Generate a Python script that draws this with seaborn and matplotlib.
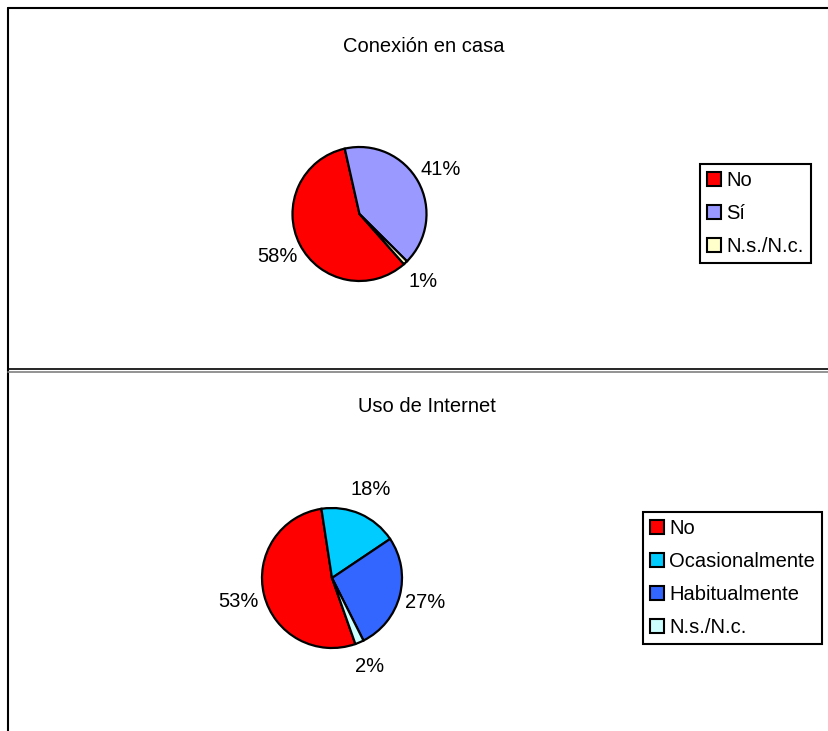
import matplotlib
matplotlib.use("Agg")
import matplotlib.pyplot as plt
from matplotlib.lines import Line2D
from matplotlib.patches import Patch
import seaborn as sns

# datos
titulo_casa = "Conexión en casa"
cats_casa = ["No", "Sí", "N.s./N.c."]
vals_casa = [58, 41, 1]
cols_casa = ["#FF0000", "#9999FF", "#FFFFCC"]

titulo_uso = "Uso de Internet"
cats_uso = ["No", "Ocasionalmente", "Habitualmente", "N.s./N.c."]
vals_uso = [53, 18, 27, 2]
cols_uso = ["#FF0000", "#00CCFF", "#3366FF", "#CCFFFF"]

sns.set_theme(style="white")
plt.rcParams['font.family'] = ['Liberation Sans', 'DejaVu Sans']
plt.rcParams['text.color'] = 'black'

W, H = 829, 731
fig = plt.figure(figsize=(W / 100, H / 100), dpi=100, facecolor='white')


def fx(x):
    return x / W


def fy(y):
    return 1 - y / H


# marcos de los dos paneles
lineas = [
    ([8, W], [8, 8], 'black', 1.5),
    ([8, 8], [8, H], 'black', 1.5),
    ([8, W], [368.5, 368.5], 'black', 1.2),
    ([8, W], [371.5, 371.5], '#808080', 1.2),
]
for xs, ys, c, lw in lineas:
    fig.add_artist(Line2D([fx(v) for v in xs], [fy(v) for v in ys], transform=fig.transFigure,
                          color=c, lw=lw))


def tarta(cx, cy, r, vals, cols, start):
    ax = fig.add_axes([fx(cx - r), fy(cy + r), 2 * r / W, 2 * r / H])
    ax.pie(vals, colors=cols, startangle=start, counterclock=False,
           wedgeprops=dict(edgecolor='black', linewidth=1.6),
           autopct=lambda p: '%.0f%%' % p, pctdistance=1.38,
           textprops=dict(fontsize=14.5, color='black'))
    ax.set_xlim(-1, 1)
    ax.set_ylim(-1, 1)
    ax.set_aspect('equal')
    return ax


def leyenda(cats, cols, x, y):
    handles = [Patch(facecolor=c, edgecolor='black', linewidth=1.5) for c in cols]
    leg = fig.legend(handles, cats, loc='upper left', bbox_to_anchor=(fx(x), fy(y)),
                     bbox_transform=fig.transFigure, borderaxespad=0, fontsize=14.5,
                     fancybox=False, framealpha=1, edgecolor='black',
                     handlelength=0.7, handleheight=0.7, handletextpad=0.25,
                     labelspacing=0.7, borderpad=0.35)
    leg.get_frame().set_linewidth(1.5)
    return leg


fig.text(fx(424), fy(47), titulo_casa, ha='center', va='center', fontsize=14.5)
tarta(359.5, 214, 67, vals_casa, cols_casa, -48.5)
leyenda(cats_casa, cols_casa, 700, 164)

fig.text(fx(427), fy(407), titulo_uso, ha='center', va='center', fontsize=14.5)
tarta(332, 578, 70, vals_uso, cols_uso, -70.5)
leyenda(cats_uso, cols_uso, 643, 512)

fig.savefig('out.png', dpi=100, facecolor='white')
